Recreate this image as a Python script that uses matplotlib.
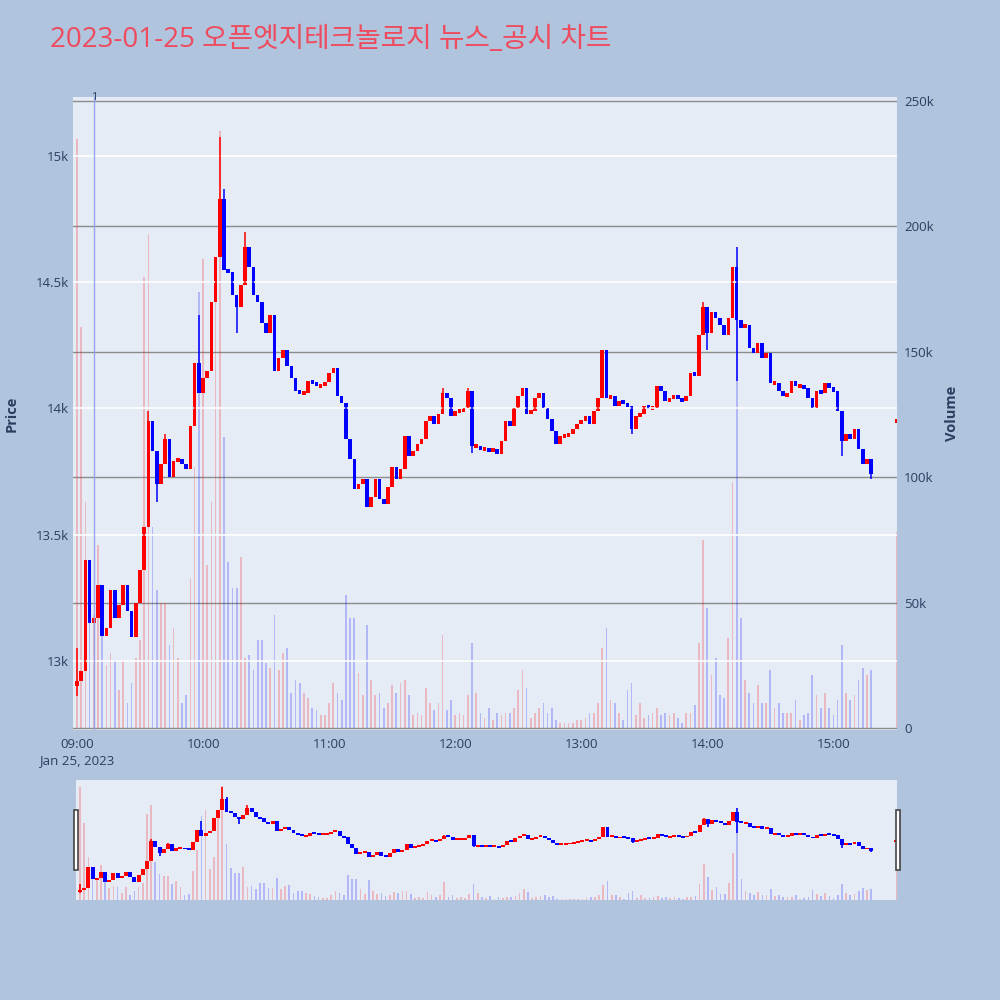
import numpy as np
import matplotlib
matplotlib.use("Agg")
import matplotlib.pyplot as plt
from matplotlib.patches import Rectangle

plt.rcParams['font.family'] = ['Open Sans', 'Noto Sans CJK KR', 'DejaVu Sans']

## data: 2-minute bars from 09:00 (minutes after open)
title = "2023-01-25 오픈엣지테크놀로지 뉴스_공시 차트"
bar_minutes = np.arange(0, 380, 2)
first_open = 12900
closes = [
    12920, 12960, 13400, 13150, 13170, 13300, 13100, 13130, 13280, 13170,
    13220, 13300, 13200, 13095, 13230, 13360, 13530, 13950, 13830, 13700,
    13780, 13880, 13730, 13790, 13800, 13780, 13760, 13930, 14180, 14060,
    14120, 14150, 14420, 14600, 14830, 14550, 14540, 14450, 14400, 14490,
    14640, 14560, 14450, 14420, 14340, 14300, 14370, 14150, 14200, 14230,
    14170, 14120, 14070, 14060, 14060, 14110, 14100, 14090, 14090, 14105,
    14140, 14160, 14050, 14020, 13880, 13800, 13680, 13700, 13720, 13610,
    13650, 13720, 13640, 13620, 13690, 13770, 13720, 13760, 13890, 13810,
    13830, 13860, 13880, 13950, 13970, 13940, 13980, 14060, 14040, 13970,
    13990, 13990, 14000, 14070, 13850, 13850, 13840, 13840, 13830, 13840,
    13820, 13870, 13950, 13930, 14000, 14050, 14080, 13980, 13990, 14040,
    14060, 14000, 13960, 13910, 13860, 13890, 13890, 13900, 13920, 13940,
    13950, 13970, 13940, 13990, 14040, 14230, 14040, 14050, 14010, 14030,
    14020, 14010, 13920, 13970, 13980, 14010, 14000, 14000, 14090, 14070,
    14030, 14040, 14050, 14040, 14030, 14050, 14140, 14130, 14290, 14400,
    14300, 14380, 14360, 14330, 14290, 14360, 14560, 14350, 14320, 14330,
    14240, 14220, 14260, 14200, 14220, 14100, 14100, 14070, 14050, 14060,
    14110, 14090, 14090, 14080, 14040, 14000, 14070, 14060, 14100, 14080,
    14070, 13990, 13870, 13900, 13880, 13920, 13840, 13780, 13800, 13740,
]
# volume in thousands of shares
volumes = [
    235, 160, 90, 50, 45, 73, 50, 25, 30, 27,
    15, 27, 10, 18, 28, 35, 180, 197, 80, 55,
    50, 50, 33, 40, 28, 10, 13, 60, 104, 174,
    187, 65, 90, 172, 238, 116, 66, 56, 56, 68,
    28, 29, 23, 35, 35, 26, 24, 45, 23, 30,
    32, 14, 19, 18, 14, 12, 8, 7, 5, 5,
    10, 18, 14, 11, 53, 44, 44, 22, 13, 41,
    19, 13, 14, 8, 10, 17, 14, 18, 19, 13,
    5, 6, 5, 16, 10, 7, 10, 37, 7, 11,
    5, 6, 5, 13, 34, 14, 6, 4, 8, 3,
    6, 5, 6, 6, 8, 15, 23, 16, 4, 6,
    8, 10, 6, 8, 3, 2, 2, 2, 2, 3,
    3, 4, 6, 6, 10, 32, 40, 11, 10, 6,
    3, 15, 18, 5, 10, 4, 5, 6, 8, 5,
    6, 5, 6, 4, 2, 6, 6, 9, 34, 75,
    48, 21, 28, 13, 12, 36, 98, 165, 44, 19,
    14, 10, 17, 10, 10, 23, 8, 10, 6, 6,
    6, 11, 3, 5, 6, 21, 13, 8, 14, 8,
    5, 11, 33, 14, 11, 13, 19, 24, 21, 23,
]
# wicks that stick out of the bodies (bar index -> price)
wick_highs = {0: 13050, 17: 13990, 21: 13900, 29: 14370, 34: 15075, 35: 14870,
              40: 14700, 87: 14080, 93: 14080, 149: 14420, 157: 14640}
wick_lows = {0: 12860, 19: 13630, 38: 14300, 94: 13825, 132: 13900, 150: 14230,
             157: 14110, 182: 13810, 189: 13720}
# closing auction 15:30
close_minute = 390
close_price = 13950
close_volume = 78
# news marker
news_minute = 8.1
news_label = "1"

time_ticks = [0, 60, 120, 180, 240, 300, 360]
time_labels = ["09:00\nJan 25, 2023", "10:00", "11:00", "12:00", "13:00", "14:00", "15:00"]
price_ticks = [13000, 13500, 14000, 14500, 15000]
price_labels = ["13k", "13.5k", "14k", "14.5k", "15k"]
vol_ticks = [0, 50000, 100000, 150000, 200000, 250000]
vol_labels = ["0", "50k", "100k", "150k", "200k", "250k"]

## build OHLC
closes = np.array(closes, dtype=float)
opens = np.concatenate([[first_open], closes[:-1]])
highs = np.maximum(opens, closes)
lows = np.minimum(opens, closes)
for k, v in wick_highs.items():
    highs[k] = v
for k, v in wick_lows.items():
    lows[k] = v
x = np.append(bar_minutes, close_minute)
opens = np.append(opens, close_price)
closes = np.append(closes, close_price)
highs = np.append(highs, close_price)
lows = np.append(lows, close_price)
vols = np.append(np.array(volumes, dtype=float), close_volume) * 1000

RED, BLUE = '#FF0000', '#0000FF'
up = closes >= opens
colors = np.where(up, RED, BLUE)

BG = '#B0C4DE'
PLOT_BG = '#E5ECF6'
TXT = '#2a3f5f'


def draw(axp, axv, body_w, wick_lw, min_h, vol_alpha):
    axv.bar(x, vols, width=0.8, color=colors, alpha=vol_alpha, linewidth=0)
    lo = np.minimum(opens, closes)
    hi = np.maximum(opens, closes)
    h = np.maximum(hi - lo, min_h)
    axp.vlines(x, lows, highs, colors=colors, linewidth=wick_lw)
    axp.bar(x, h, bottom=lo - (h - (hi - lo)) / 2, width=body_w,
            color=colors, linewidth=0)


fig = plt.figure(figsize=(10, 10), dpi=100)
fig.patch.set_facecolor(BG)

## main chart
ax = fig.add_axes([0.073, 0.270, 0.824, 0.633])
axv = ax.twinx()
ax.set_zorder(axv.get_zorder() + 1)
ax.patch.set_visible(False)
axv.patch.set_visible(True)
axv.patch.set_facecolor(PLOT_BG)

draw(ax, axv, 1.7, 1.1, 16, 0.22)

ax.set_xlim(-1.9, 390.3)
ax.set_ylim(12727, 15233)
axv.set_ylim(-800, 251600)

ax.set_yticks(price_ticks)
ax.set_yticklabels(price_labels)
axv.set_yticks(vol_ticks)
axv.set_yticklabels(vol_labels)
ax.set_xticks(time_ticks)
ax.set_xticklabels(time_labels, linespacing=1.3, va='top')

for a in (ax, axv):
    for s in a.spines.values():
        s.set_visible(False)
    a.tick_params(length=0, colors=TXT, labelsize=9.5)
ax.tick_params(axis='x', pad=6)
ax.tick_params(axis='y', pad=3)
axv.tick_params(axis='y', pad=5)

ax.grid(axis='y', color='white', linewidth=1.2)
ax.grid(axis='x', visible=False)
axv.grid(axis='y', color='#8c8c8c', linewidth=1.0)
axv.set_axisbelow(True)

ax.set_ylabel("Price", color=TXT, fontsize=10.5, fontweight='bold', labelpad=12)
axv.set_ylabel("Volume", color=TXT, fontsize=10.5, fontweight='bold', labelpad=8)

ax.axvline(news_minute, color='#8f9cf0', linewidth=1, alpha=0.9)
ax.text(news_minute, 15233, news_label, color=TXT, fontsize=8,
        ha='center', va='center')

fig.text(0.05, 0.960, title, color='#EE4B5E', fontsize=20, va='center', ha='left')

## range slider
rs = fig.add_axes([0.076, 0.100, 0.821, 0.120])
rsv = rs.twinx()
rs.set_zorder(rsv.get_zorder() + 1)
rs.patch.set_visible(False)
rsv.patch.set_visible(True)
rsv.patch.set_facecolor(PLOT_BG)
draw(rs, rsv, 1.9, 1.2, 40, 0.22)
rs.set_xlim(-1.9, 390.3)
rs.set_ylim(12714, 15221)
rsv.set_ylim(0, 250000)
for a in (rs, rsv):
    a.set_xticks([])
    a.set_yticks([])
    for s in a.spines.values():
        s.set_visible(False)

for hx in (0.0735, 0.8955):
    fig.patches.append(Rectangle((hx, 0.130), 0.0045, 0.060, transform=fig.transFigure,
                                 facecolor='white', edgecolor='#444444', linewidth=1.2))

fig.savefig("out.png", dpi=100, facecolor=BG)
